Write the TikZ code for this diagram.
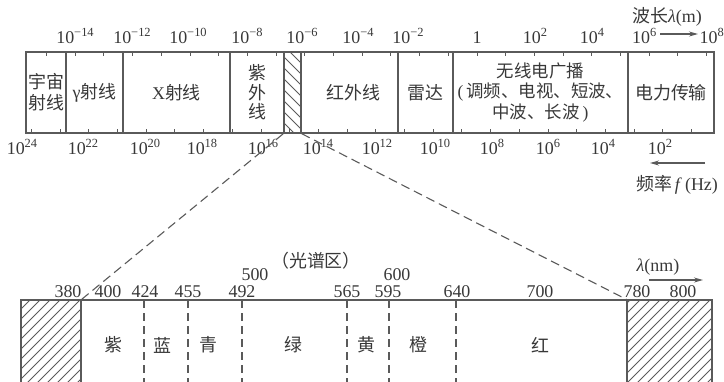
\documentclass[tikz,border=0pt]{standalone}
\usepackage{fontspec}
\setmainfont{Liberation Serif}
\newfontfamily\cjk{Noto Sans CJK SC}
\usetikzlibrary{arrows.meta}
\definecolor{lc}{HTML}{5A5A5A}
\definecolor{tc}{HTML}{383838}
\newcommand\pw[1]{10\raisebox{0.36em}{\fontsize{12.5}{12.5}\selectfont #1}}
\begin{document}
\begin{tikzpicture}[x=1bp,y=-1bp,
 cell/.style={draw=lc, line width=1.3bp, inner sep=0pt, text=tc, align=center, font=\cjk\fontsize{18}{21}\selectfont},
 num/.style={text=tc, inner sep=0pt, anchor=base, font=\fontsize{18}{18}\selectfont},
 cjklbl/.style={text=tc, inner sep=0pt, font=\cjk\fontsize{18}{18}\selectfont},
 tickln/.style={draw=lc, line width=1bp},
 bigdash/.style={draw=lc, line width=1.1bp, dash pattern=on 9bp off 5bp},
 divdash/.style={draw=lc, line width=1.2bp, dash pattern=on 8bp off 5bp},
 hatchln/.style={draw=lc, line width=0.8bp},
 arr/.style={draw=lc, line width=1.2bp, -{Stealth[length=9bp,width=5bp]}},
]
\useasboundingbox (0,0) rectangle (724,381);
\clip (0,0) rectangle (724,381);

% ---------- top band ----------
\node[cell, minimum width=40bp, minimum height=81bp] (cr) at (46,92.5) {宇宙\\射线};
\node[cell, minimum width=57bp, minimum height=81bp] (gamma) at (94.5,92.5) {{\rmfamily γ}射线};
\node[cell, minimum width=107bp, minimum height=81bp] (xray) at (176.5,92.5) {{\rmfamily X}射线};
\node[cell, minimum width=54bp, minimum height=81bp, font=\cjk\fontsize{18}{19.5}\selectfont] (uv) at (257,92.5) {紫\\外\\线};
\node[cell, minimum width=17bp, minimum height=81bp] (vis) at (292.5,92.5) {};
\node[cell, minimum width=97bp, minimum height=81bp] (ir) at (349.5,92.5) {\hspace*{8bp}红外线};
\node[cell, minimum width=55bp, minimum height=81bp] (radar) at (425.5,92.5) {雷达};
\node[cell, minimum width=175bp, minimum height=81bp, font=\cjk\fontsize{17.5}{21}\selectfont] (radio) at (540.5,92.5) {无线电广播\\{\rmfamily (}\,调频、电视、短波、\\中波、长波\,{\rmfamily )}};
\node[cell, minimum width=86bp, minimum height=81bp] (power) at (671,92.5) {电力传输};

% hatch of visible band
\begin{scope}
\clip (vis.north west) rectangle (vis.south east);
\foreach \k in {0,...,10} \draw[hatchln] (280,{31+\k*11}) -- ++(25,25);
\end{scope}

% ticks: wavelength (top) and frequency (bottom)
\foreach \n in {-15,...,8} \draw[tickln] ({477+28.7*\n},52) -- ++(0,4);
\foreach \n in {1,...,24} \draw[tickln] ({477+28.7*(8.477-\n)},133) -- ++(0,-4);

% wavelength labels
\node[num] (l1) at (75,43) {\pw{−14}};
\node[num] (l2) at (132,43) {\pw{−12}};
\node[num] (l3) at (188,43) {\pw{−10}};
\node[num] (l4) at (247,43) {\pw{−8}};
\node[num] (l5) at (302,43) {\pw{−6}};
\node[num] (l6) at (358,43) {\pw{−4}};
\node[num] (l7) at (408,43) {\pw{−2}};
\node[num] (l8) at (477,43) {1};
\node[num] (l9) at (535,43) {\pw{2}};
\node[num] (l10) at (592,43) {\pw{4}};
\node[num, anchor=base west] (l11) at (632,43) {\pw{6}};
\node[num, anchor=base east] (l12) at (724,43) {\pw{8}};
\node[num] (wl) at (667,22) {{\cjk 波长}\textit{λ}(m)};
\coordinate (wa1) at (660,34);
\coordinate (wa2) at (698,34);
\draw[arr] (wa1) -- (wa2);

% frequency labels
\node[num] (f1) at (22,154) {\pw{24}};
\node[num] (f2) at (83,154) {\pw{22}};
\node[num] (f3) at (145,154) {\pw{20}};
\node[num] (f4) at (202,154) {\pw{18}};
\node[num] (f5) at (263,154) {\pw{16}};
\node[num] (f6) at (318,154) {\pw{14}};
\node[num] (f7) at (377,154) {\pw{12}};
\node[num] (f8) at (435,154) {\pw{10}};
\node[num] (f9) at (492,154) {\pw{8}};
\node[num] (f10) at (548,154) {\pw{6}};
\node[num] (f11) at (603,154) {\pw{4}};
\node[num] (f12) at (660,154) {\pw{2}};
\coordinate (fa1) at (705,163);
\coordinate (fa2) at (650,163);
\draw[arr] (fa1) -- (fa2);
\node[num] (fq) at (677,190) {{\cjk 频率}\,\textit{f}\,(Hz)};

% ---------- bottom (visible spectrum) ----------
\node[cell, minimum width=691bp, minimum height=100bp] (spec) at (366.5,350) {};
\node[cell, minimum width=60bp, minimum height=100bp] (bl) at (51,350) {};
\node[cell, minimum width=85bp, minimum height=100bp] (br) at (669.5,350) {};
\begin{scope}
\clip (bl.north west) rectangle (bl.south east);
\foreach \k in {0,...,18} \draw[hatchln] ({-100+\k*10},400) -- ++(110,-110);
\end{scope}
\begin{scope}
\clip (br.north west) rectangle (br.south east);
\foreach \k in {0,...,22} \draw[hatchln] ({510+\k*10},400) -- ++(110,-110);
\end{scope}
\foreach \x in {144,188,242,347,389,456} \draw[divdash] (\x,300) -- (\x,400);

% connectors from the visible band
\draw[bigdash] (vis.south west) -- (bl.north east);
\draw[bigdash] (vis.south east) -- (br.north west);

% nm labels
\node[num] (n380) at (68,297) {380};
\node[num] (n400) at (108,297) {400};
\node[num] (n424) at (145,297) {424};
\node[num] (n455) at (188,297) {455};
\node[num] (n492) at (242,297) {492};
\node[num] (n565) at (347,297) {565};
\node[num] (n595) at (388,297) {595};
\node[num] (n640) at (457,297) {640};
\node[num] (n700) at (540,297) {700};
\node[num] (n780) at (637,297) {780};
\node[num] (n800) at (683,297) {800};
\node[num] (n500) at (255,280) {500};
\node[num] (n600) at (397,280) {600};
\node[cjklbl] (gpq) at (316,261) {（光谱区）};
\node[num] (nm) at (658,271) {\textit{λ}(nm)};
\coordinate (na1) at (649,280);
\coordinate (na2) at (703,280);
\draw[arr] (na1) -- (na2);

% colour names
\node[cjklbl] (c1) at (113,345) {紫};
\node[cjklbl] (c2) at (162,345) {蓝};
\node[cjklbl] (c3) at (208,345) {青};
\node[cjklbl] (c4) at (293,345) {绿};
\node[cjklbl] (c5) at (366,345) {黄};
\node[cjklbl] (c6) at (418,345) {橙};
\node[cjklbl] (c7) at (540,345) {红};
\end{tikzpicture}
\end{document}
